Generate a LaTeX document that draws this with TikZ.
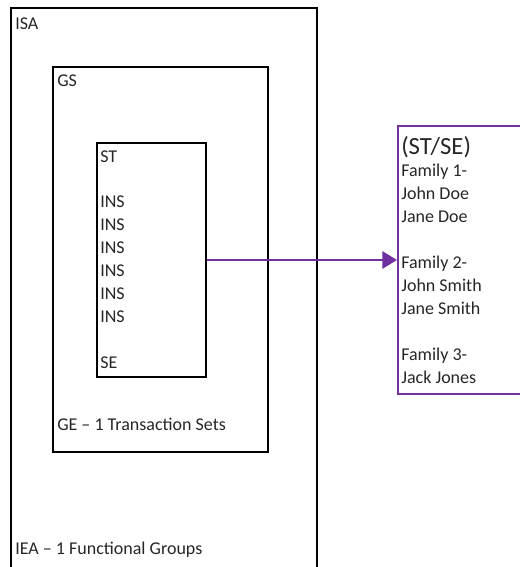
\documentclass[tikz,border=0pt]{standalone}
\usepackage{fontspec}
\setmainfont{Carlito}
\usepackage{xcolor}
\usepackage{tikz}
\usetikzlibrary{arrows.meta, calc}

\definecolor{famviolet}{RGB}{112,48,160}

\begin{document}
\begin{tikzpicture}[
        x=0.75pt, y=-0.75pt,
        box/.style={rectangle, draw, line width=1.5pt, inner sep=0pt},
        lbl/.style={anchor=base west, inner sep=0pt, text=black!85, font=\fontsize{13.5}{16}\selectfont},
        famtitle/.style={lbl, font=\fontsize{18.5}{22}\selectfont},
        link/.style={-{Triangle[length=11pt, width=13pt]}, line width=1.5pt, draw=famviolet, fill=famviolet}
    ]
    \clip (0,0) rectangle (520,567);

    % nested envelopes
    \node (isa) [box, minimum width=229.5pt, minimum height=459pt] at (164,314) {};
    \node (gs) [box, minimum width=161.25pt, minimum height=288.75pt] at (160.5,259.5) {};
    \node (st) [box, minimum width=81.75pt, minimum height=175.5pt] at (151.5,260) {};
    \node (fam) [box, draw=famviolet, minimum width=121.5pt, minimum height=201pt] at (479,260) {};

    \node (isalbl) [lbl] at ($(isa.north west)+(5,23)$) {ISA};
    \node (iealbl) [lbl] at ($(isa.north west)+(5,547)$) {IEA – 1 Functional Groups};
    \node (gslbl) [lbl] at ($(gs.north west)+(5,21)$) {GS};
    \node (gelbl) [lbl] at ($(gs.south west)+(5,-23)$) {GE – 1 Transaction Sets};

    \foreach \row/\txt in {0/ST,2/INS,3/INS,4/INS,5/INS,6/INS,7/INS,9/SE}
        \node (st-\row) [lbl] at ($(st.north west)+(4,20+22.9*\row)$) {\txt};

    \node (famhead) [famtitle] at ($(fam.north west)+(4,29)$) {(ST/SE)};
    \foreach \row/\txt in {0/Family 1-,1/John Doe,2/Jane Doe,4/Family 2-,5/John Smith,6/Jane Smith,8/Family 3-,9/Jack Jones}
        \node (fam-\row) [lbl] at ($(fam.north west)+(4,51+23*\row)$) {\txt};

    \draw[link] (st.east) -- (fam.west);

\end{tikzpicture}
\end{document}
